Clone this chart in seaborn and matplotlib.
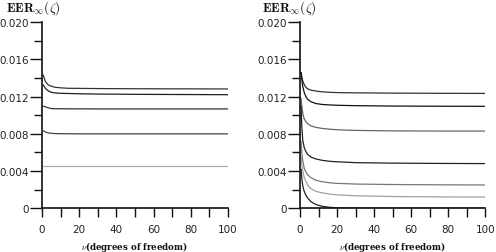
import numpy as np
import pandas as pd
import matplotlib
matplotlib.use("Agg")
import matplotlib.pyplot as plt
import seaborn as sns
from matplotlib.ticker import MultipleLocator

# ---- data ----
left_nu = [0.7, 1.6, 2.5, 3.4, 5, 7, 10, 14, 20, 30, 50, 75, 100]
left_a = [0.01433, 0.01372, 0.01345, 0.01326, 0.01312, 0.01301, 0.01295, 0.0129, 0.01289, 0.01287, 0.01285, 0.01284, 0.01283]
left_b = [0.01326, 0.01295, 0.01276, 0.01262, 0.01247, 0.0124, 0.01236, 0.01234, 0.01231, 0.01228, 0.01225, 0.01223, 0.01221]
left_c = [0.01098, 0.01092, 0.01086, 0.01080, 0.01072, 0.0107, 0.0107, 0.01069, 0.01069, 0.01068, 0.01068, 0.01068, 0.01068]
left_d = [0.00834, 0.00822, 0.00815, 0.0081, 0.00806, 0.00803, 0.00802, 0.00801, 0.008, 0.008, 0.008, 0.008, 0.008]
left_e = [0.0045, 0.0045, 0.0045, 0.0045, 0.0045, 0.0045, 0.0045, 0.0045, 0.0045, 0.0045, 0.0045, 0.0045, 0.0045]

right_nu = [0.6, 1.0, 1.5, 2.3, 3.2, 4.1, 5.9, 8.6, 12, 16, 19.4, 25, 30, 50, 75, 100]
right_a = [0.0146, 0.0141, 0.0137, 0.0133, 0.0130, 0.01285, 0.01270, 0.01260, 0.01252, 0.01247, 0.01244, 0.01242, 0.01241, 0.01238, 0.01236, 0.01235]
right_b = [0.0146, 0.0138, 0.0131, 0.01244, 0.01200, 0.01172, 0.01146, 0.01126, 0.01116, 0.01111, 0.01108, 0.01105, 0.01103, 0.01099, 0.01097, 0.01096]
right_c = [0.0118, 0.0110, 0.0102, 0.0096, 0.0093, 0.0091, 0.00885, 0.0087, 0.00858, 0.0085, 0.00845, 0.0084, 0.00837, 0.00832, 0.0083, 0.0083]
right_d = [0.0110, 0.0087, 0.0073, 0.0065, 0.0061, 0.0058, 0.0055, 0.0053, 0.00515, 0.00505, 0.005, 0.00495, 0.0049, 0.00485, 0.00482, 0.0048]
right_e = [0.0072, 0.0060, 0.0051, 0.0043, 0.0039, 0.0036, 0.0033, 0.003, 0.00285, 0.00274, 0.00268, 0.00264, 0.0026, 0.00255, 0.00252, 0.0025]
right_f = [0.0056, 0.0047, 0.0040, 0.0033, 0.0029, 0.0025, 0.0021, 0.00182, 0.00165, 0.00152, 0.00145, 0.00139, 0.00134, 0.00126, 0.00122, 0.0012]
right_g = [0.0042, 0.0032, 0.0024, 0.0018, 0.0014, 0.0011, 0.0007, 0.0004, 0.0002, 0.0001, 0.00005, 0.00002, 0.00001, 0.0, 0.0, 0.0]

left_colors = ["#333333", "#1e1e1e", "#333333", "#444444", "#aaaaaa"]
right_colors = ["#333333", "#111111", "#666666", "#222222", "#777777", "#a0a0a0", "#222222"]

x_ticks = [0, 20, 40, 60, 80, 100]
y_ticks = [0, 0.004, 0.008, 0.012, 0.016, 0.020]
y_labels = ["0", "0.004", "0.008", "0.012", "0.016", "0.020"]

def make_df(nu, series):
    rows = []
    for i, s in enumerate(series):
        for n, v in zip(nu, s):
            rows.append({"nu": n, "eer": v, "curve": f"c{i}"})
    return pd.DataFrame(rows)

sns.set_style("ticks")
plt.rcParams["mathtext.fontset"] = "cm"

fig = plt.figure(figsize=(4.96, 2.53), dpi=100)
ax1 = fig.add_axes([0.0847, 0.173, 0.375, 0.735])
ax2 = fig.add_axes([0.6048, 0.173, 0.3736, 0.735])

panels = [
    (ax1, make_df(left_nu, [left_a, left_b, left_c, left_d, left_e]), left_colors, 33),
    (ax2, make_df(right_nu, [right_a, right_b, right_c, right_d, right_e, right_f, right_g]), right_colors, 289),
]

for ax, df, cols, tx in panels:
    sns.lineplot(data=df, x="nu", y="eer", hue="curve", palette=cols,
                 legend=False, ax=ax, linewidth=0.9)
    ax.set_xlim(0, 100)
    ax.set_ylim(0, 0.020)
    ax.set_xticks(x_ticks)
    ax.set_xticklabels([str(t) for t in x_ticks])
    ax.xaxis.set_minor_locator(MultipleLocator(10))
    ax.set_yticks(y_ticks)
    ax.set_yticklabels(y_labels)
    ax.yaxis.set_minor_locator(MultipleLocator(0.002))
    ax.tick_params(axis="x", which="both", length=6.5, width=1.0, direction="out",
                   labelsize=7.5, pad=5, color="#111111", labelcolor="#222222")
    ax.tick_params(axis="y", which="major", length=8.5, width=1.0, direction="out",
                   labelsize=7.5, pad=1, color="#111111", labelcolor="#222222")
    ax.tick_params(axis="y", which="minor", length=6, width=1.0, direction="out",
                   color="#111111")
    for sp in ["top", "right"]:
        ax.spines[sp].set_visible(False)
    for sp in ["left", "bottom"]:
        ax.spines[sp].set_linewidth(1.2)
        ax.spines[sp].set_color("#111111")
    ax.set_xlabel("")
    ax.set_ylabel("")
    fig.text(tx / 496, 1 - 8 / 253, r"$\mathbf{EER}_{\infty}(\zeta)$", ha="center",
             va="center", fontsize=9.5, color="#111111")
    bb = ax.get_position()
    fig.text(bb.x0 + bb.width / 2, 1 - 247 / 253,
             r"$\nu$" + "(degrees of freedom)", ha="center", va="center",
             fontsize=6.2, fontweight="bold", family="serif", color="#111111")

fig.savefig("out.png", dpi=100)
